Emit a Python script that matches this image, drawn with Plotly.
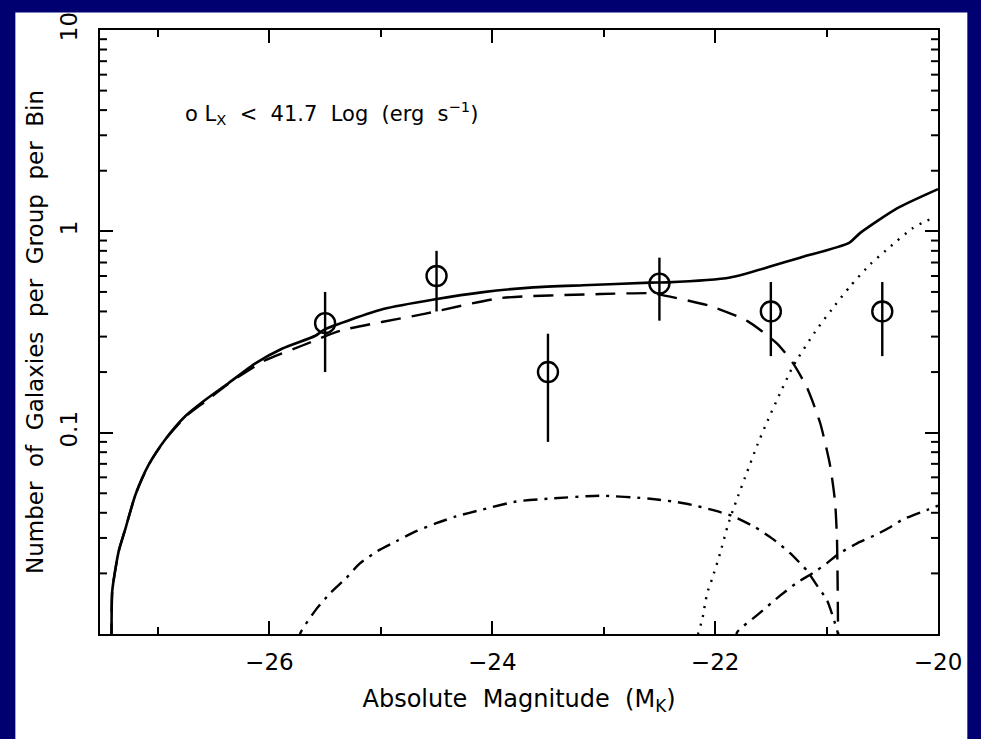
import plotly.graph_objects as go

# ---- data ----
obs_mag = [-25.5, -24.5, -23.5, -22.5, -21.5, -20.5]
obs_n = [0.35, 0.60, 0.20, 0.55, 0.40, 0.40]
obs_err = [0.15, 0.20, 0.11, 0.19, 0.16, 0.16]

total_mag = [-27.42, -27.417, -27.41, -27.352, -27.291, -27.202, -27.085, -26.933, -26.753,
             -26.574, -26.368, -26.126, -25.883, -25.587, -25.507, -24.978, -24.511,
             -24.081, -23.632, -23.184, -22.583, -22.430, -21.865, -21.507, -21.238,
             -20.798, -20.700, -20.368, -20.0]
total_n = [0.009, 0.0100, 0.0164, 0.0258, 0.0335, 0.0492, 0.069, 0.0927, 0.121,
           0.1456, 0.176, 0.221, 0.262, 0.303, 0.325, 0.411, 0.460,
           0.499, 0.527, 0.540, 0.556, 0.558, 0.590, 0.668, 0.740,
           0.877, 0.98, 1.30, 1.62]

dash_mag = [-27.42, -27.417, -27.41, -27.352, -27.291, -27.202, -27.085, -26.933, -26.753,
            -26.574, -26.305, -26.036, -25.704, -25.363, -24.610, -23.928, -23.031,
            -22.583, -22.520, -22.045, -21.713, -21.444, -21.300, -21.175, -21.058,
            -20.969, -20.924, -20.906, -20.897, -20.895]
dash_n = [0.009, 0.0100, 0.0164, 0.0258, 0.0335, 0.0492, 0.069, 0.0927, 0.120,
          0.143, 0.185, 0.229, 0.271, 0.321, 0.389, 0.466, 0.488,
          0.493, 0.488, 0.426, 0.359, 0.277, 0.221, 0.167, 0.112,
          0.069, 0.0455, 0.0289, 0.0108, 0.009]

dot_mag = [-22.16, -22.152, -22.117, -22.072, -22.027, -21.955, -21.883, -21.803, -21.713,
           -21.623, -21.525, -21.417, -21.300, -21.103, -20.951, -20.789, -20.610,
           -20.430, -20.224, -20.108, -20.05]
dot_n = [0.009, 0.0101, 0.0117, 0.0159, 0.0188, 0.0252, 0.0351, 0.0470, 0.0638,
         0.0865, 0.116, 0.157, 0.214, 0.317, 0.411, 0.533, 0.684,
         0.838, 1.04, 1.125, 1.16]

dd1_mag = [-25.73, -25.722, -25.587, -25.457, -25.309, -25.193, -25.031, -24.861, -24.682,
           -24.502, -24.323, -24.090, -23.785, -23.489, -23.040, -22.583, -22.269,
           -22.000, -21.839, -21.641, -21.480, -21.327, -21.175, -21.085, -20.996,
           -20.924, -20.897, -20.89]
dd1_n = [0.009, 0.0101, 0.0131, 0.0159, 0.0190, 0.0223, 0.0258, 0.0289, 0.0324,
         0.0355, 0.0384, 0.0415, 0.0455, 0.0470, 0.0486, 0.0470, 0.0445,
         0.0410, 0.0384, 0.0339, 0.0296, 0.0252, 0.0206, 0.0174, 0.0147,
         0.0113, 0.0100, 0.009]

dd2_mag = [-21.81, -21.803, -21.623, -21.417, -21.265, -21.121, -20.996, -20.897, -20.726,
           -20.547, -20.430, -20.314, -20.090, -20.0]
dd2_n = [0.009, 0.0102, 0.0124, 0.0155, 0.0180, 0.0201, 0.0225, 0.0249, 0.0282,
         0.0313, 0.0339, 0.0371, 0.0415, 0.0434]

x_tickvals = [-26, -24, -22, -20]
x_ticktext = ["\u221226", "\u221224", "\u221222", "\u221220"]
y_tickvals = [0.01, 0.1, 1, 10]
y_ticktext = ["", "0.1", "1", "10"]
y_minor_vals = [0.02, 0.03, 0.04, 0.05, 0.06, 0.07, 0.08, 0.09,
                0.2, 0.3, 0.4, 0.5, 0.6, 0.7, 0.8, 0.9,
                2, 3, 4, 5, 6, 7, 8, 9]

FONT = "DejaVu Sans"
NAVY = "#000070"
SP = "\u00a0"

fig = go.Figure()

line_w = 2.4
fig.add_trace(go.Scatter(x=dd1_mag, y=dd1_n, mode="lines",
                         line=dict(color="black", width=line_w, dash="14px,7px,3px,7px",
                                   shape="spline", smoothing=0.6),
                         showlegend=False, hoverinfo="skip"))
fig.add_trace(go.Scatter(x=dd2_mag, y=dd2_n, mode="lines",
                         line=dict(color="black", width=line_w, dash="14px,7px,3px,7px",
                                   shape="spline", smoothing=0.6),
                         showlegend=False, hoverinfo="skip"))
fig.add_trace(go.Scatter(x=dot_mag, y=dot_n, mode="lines",
                         line=dict(color="black", width=line_w, dash="2px,7px",
                                   shape="spline", smoothing=0.6),
                         showlegend=False, hoverinfo="skip"))
fig.add_trace(go.Scatter(x=dash_mag, y=dash_n, mode="lines",
                         line=dict(color="black", width=line_w, dash="20px,11px",
                                   shape="spline", smoothing=0.6),
                         showlegend=False, hoverinfo="skip"))
fig.add_trace(go.Scatter(x=total_mag, y=total_n, mode="lines",
                         line=dict(color="black", width=2.6, shape="spline", smoothing=0.6),
                         showlegend=False, hoverinfo="skip"))
fig.add_trace(go.Scatter(x=obs_mag, y=obs_n, mode="markers",
                         marker=dict(symbol="circle-open", size=20, color="black",
                                     line=dict(width=2.4, color="black")),
                         error_y=dict(type="data", array=obs_err, visible=True,
                                      color="black", thickness=2.4, width=0),
                         showlegend=False))

# white panel inside the navy frame
fig.add_shape(type="rect", xref="paper", yref="paper",
              x0=-0.101, x1=1.035, y0=-0.2, y1=1.029,
              fillcolor="white", line=dict(width=0), layer="below")

# minor log ticks on the left and right frame (positioned by the y axis)
minor_len = 7 / 837.5
for v in y_minor_vals:
    fig.add_shape(type="line", xref="paper", yref="y", x0=0, x1=minor_len, y0=v, y1=v,
                  line=dict(color="black", width=2))
    fig.add_shape(type="line", xref="paper", yref="y", x0=1 - minor_len, x1=1, y0=v, y1=v,
                  line=dict(color="black", width=2))

legend_text = SP.join(["o", "L<sub>X</sub>", "", "<", "", "41.7", "", "Log", "",
                       "(erg", "", "s<sup>\u22121</sup>)"])
fig.add_annotation(xref="paper", yref="paper", x=0.0985, y=0.862,
                   xanchor="left", yanchor="middle", showarrow=False,
                   text=legend_text,
                   font=dict(family=FONT, size=21, color="black"))

fig.update_layout(
    width=981, height=739,
    margin=dict(l=100, r=43, t=23, b=105),
    paper_bgcolor=NAVY, plot_bgcolor="white",
    font=dict(family=FONT, size=21, color="black"),
    showlegend=False,
)
fig.update_xaxes(
    range=[-27.52, -20], showgrid=False, zeroline=False,
    showline=True, linecolor="black", linewidth=2.4, mirror="allticks",
    ticks="inside", ticklen=13, tickwidth=2, tickcolor="black",
    tickvals=x_tickvals, ticktext=x_ticktext, ticklabelstandoff=6,
    tickfont=dict(family=FONT, size=23),
    minor=dict(ticks="inside", ticklen=7, tickwidth=2, tickcolor="black",
               dtick=1, tick0=-20, showgrid=False),
    title=dict(text=(SP * 2).join(["Absolute", "Magnitude", "(M<sub>K</sub>)"]), standoff=16,
               font=dict(family=FONT, size=24)),
)
fig.update_yaxes(
    type="log", range=[-2, 1], showgrid=False, zeroline=False,
    showline=True, linecolor="black", linewidth=2.4, mirror="allticks",
    ticks="inside", ticklen=13, tickwidth=2, tickcolor="black",
    tickmode="array", tickvals=y_tickvals, ticktext=y_ticktext, tickangle=-90,
    ticklabelstandoff=12,
    tickfont=dict(family=FONT, size=23),
    title=dict(text=(SP * 2).join(["Number", "of", "Galaxies", "per", "Group", "per", "Bin"]),
               standoff=6, font=dict(family=FONT, size=23)),
)

fig.write_html("out.html")
